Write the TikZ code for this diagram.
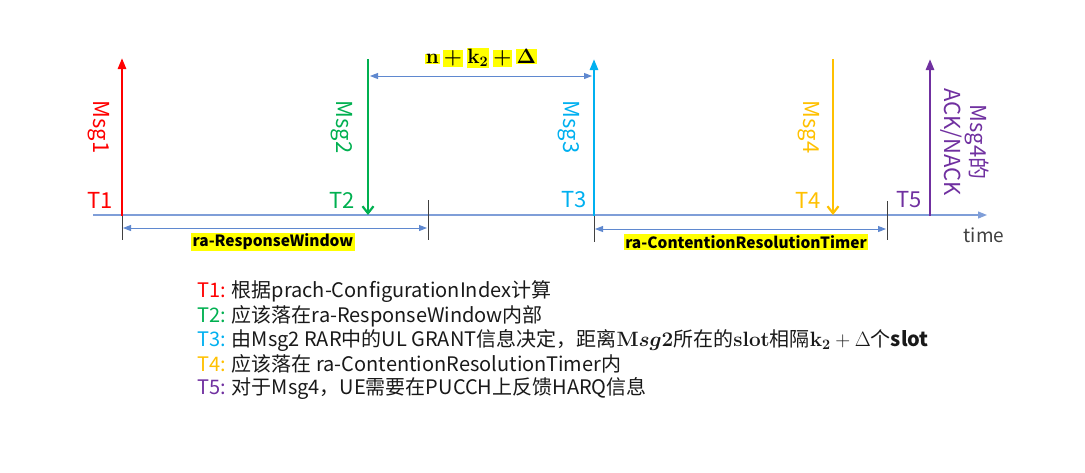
\documentclass[tikz,border=0pt]{standalone}
\usepackage{amsmath,bm}
\usepackage[no-math]{fontspec}
\setmainfont{Noto Sans CJK SC}
\usetikzlibrary{arrows.meta}
\definecolor{cA}{HTML}{FF0000}
\definecolor{cB}{HTML}{00B050}
\definecolor{cC}{HTML}{00B0F0}
\definecolor{cD}{HTML}{FFC000}
\definecolor{cE}{HTML}{7030A0}
\definecolor{axc}{HTML}{7F9ED8}
\definecolor{dimc}{HTML}{5F88CF}
\definecolor{tickc}{HTML}{404040}
\definecolor{hl}{HTML}{FFFF00}
\newcommand{\hlm}[1]{{\setlength{\fboxsep}{0.8pt}\colorbox{hl}{\boldmath$#1$}}}
\newcommand{\bmath}[1]{{\boldmath$#1$}}
\begin{document}
\begin{tikzpicture}[x=1pt,y=-1pt,
  axis/.style={draw=axc,line width=1.2pt,-{Triangle[width=7pt,length=9pt]}},
  msgline/.style={line width=2.6pt},
  uptip/.style={-{Triangle[width=8pt,length=11pt]}},
  downtip/.style={-{Straight Barb[width=11pt,length=7pt,line width=2.2pt]}},
  dimline/.style={draw=dimc,line width=1pt,{Triangle[width=6pt,length=8pt]}-{Triangle[width=6pt,length=8pt]}},
  tickline/.style={draw=tickc,line width=1pt},
  tlab/.style={font=\fontsize{22}{26}\selectfont,inner sep=0pt},
  mlab/.style={font=\fontsize{22}{26}\selectfont,inner sep=0pt,rotate=-90},
  hlbox/.style={fill=hl,font=\fontsize{15.5}{18}\selectfont\bfseries,inner xsep=1.5pt,inner ysep=1pt},
  note/.style={font=\fontsize{20}{24}\selectfont,anchor=west,inner sep=0pt,text=black!90}
]
\useasboundingbox (0,0) rectangle (1085,472);
% axis
\coordinate (ax0) at (93,215);
\coordinate (ax1) at (987,215);
\draw[axis] (ax0) -- (ax1);
\node[font=\fontsize{19}{22}\selectfont,text=tickc,inner sep=0pt] (timelab) at (984,235) {time};
% ticks
\coordinate (tk1a) at (122,215); \coordinate (tk1b) at (122,240);
\coordinate (tk2a) at (428,200); \coordinate (tk2b) at (428,240);
\coordinate (tk3a) at (594,215); \coordinate (tk3b) at (594,242);
\coordinate (tk4a) at (887,201); \coordinate (tk4b) at (887,240);
\draw[tickline] (tk1a) -- (tk1b);
\draw[tickline] (tk2a) -- (tk2b);
\draw[tickline] (tk3a) -- (tk3b);
\draw[tickline] (tk4a) -- (tk4b);
% message arrows
\coordinate (m1b) at (122,216); \coordinate (m1t) at (122,58);
\coordinate (m2t) at (368,59);  \coordinate (m2b) at (368,215);
\coordinate (m3b) at (594,216); \coordinate (m3t) at (594,59);
\coordinate (m4t) at (833,59);  \coordinate (m4b) at (833,215);
\coordinate (m5b) at (930,216); \coordinate (m5t) at (930,59);
\draw[msgline,cA,uptip] (m1b) -- (m1t);
\draw[msgline,cB,downtip] (m2t) -- (m2b);
\draw[msgline,cC,uptip] (m3b) -- (m3t);
\draw[msgline,cD,downtip] (m4t) -- (m4b);
\draw[msgline,cE,uptip] (m5b) -- (m5t);
% T labels
\node[tlab,text=cA] (t1) at (100,200) {T1};
\node[tlab,text=cB] (t2) at (342,200) {T2};
\node[tlab,text=cC] (t3) at (574,200) {T3};
\node[tlab,text=cD] (t4) at (808,200) {T4};
\node[tlab,text=cE] (t5) at (909,200) {T5};
% Msg labels
\node[mlab,text=cA] (l1) at (99,127) {Msg1};
\node[mlab,text=cB] (l2) at (342,127) {Msg2};
\node[mlab,text=cC] (l3) at (569,127) {Msg3};
\node[mlab,text=cD] (l4) at (809,127) {Msg4};
\node[mlab,text=cE,align=center] (l5) at (965,142) {Msg4的\\ACK/NACK};
% dimension arrows
\coordinate (d1a) at (123,228); \coordinate (d1b) at (427,228);
\draw[dimline] (d1a) -- (d1b);
\node[hlbox] (w1) at (273,242) {ra-ResponseWindow};
\coordinate (d2a) at (595,229); \coordinate (d2b) at (886,229);
\draw[dimline] (d2a) -- (d2b);
\node[hlbox] (w2) at (746,242) {ra-ContentionResolutionTimer};
\coordinate (d3a) at (370,76); \coordinate (d3b) at (592,76);
\draw[dimline] (d3a) -- (d3b);
\node[inner sep=0pt,font=\fontsize{21.5}{24}\selectfont] (w3) at (481,58) {\hlm{\mathbf{n}}\,\hlm{+}\,\hlm{\mathbf{k_2}}\,\hlm{+}\,\hlm{\mathbf{\Delta}}};
% notes
\node[note] (n1) at (197,292) {\textcolor{cA}{T1:} 根据prach-ConfigurationIndex计算};
\node[note] (n2) at (197,316) {\textcolor{cB}{T2:} 应该落在ra-ResponseWindow内部};
\node[note] (n3) at (197,340) {\textcolor{cC}{T3:} 由Msg2 RAR中的UL GRANT信息决定，距离\bmath{\mathbf{M}\bm{sg}\mathbf{2}}所在的\bmath{\mathbf{slot}}相隔\bmath{\mathbf{k_2}}${}+\Delta$个\textbf{slot}};
\node[note] (n4) at (197,364) {\textcolor{cD}{T4:} 应该落在 ra-ContentionResolutionTimer内};
\node[note] (n5) at (197,388) {\textcolor{cE}{T5:} 对于Msg4，UE需要在PUCCH上反馈HARQ信息};
\end{tikzpicture}
\end{document}
